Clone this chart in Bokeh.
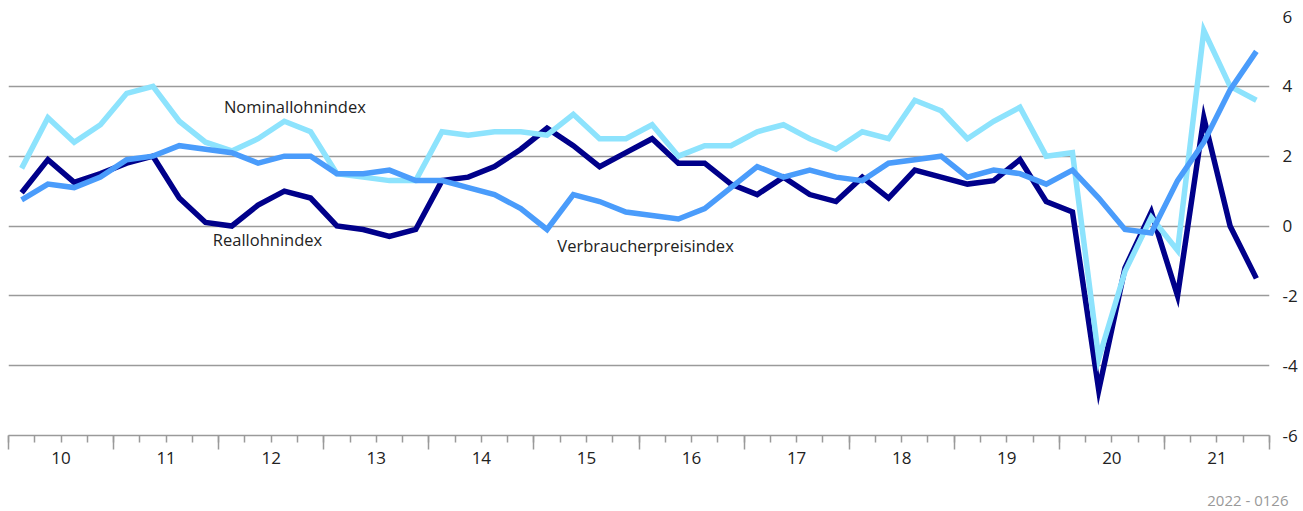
import numpy as np
from bokeh.plotting import figure
from bokeh.models import FixedTicker, LinearAxis, Label, Range1d, Title
from bokeh.embed import file_html
from bokeh.resources import INLINE

# ---- data (quarterly, 2010 Q1 .. 2021 Q4, change vs. previous year in %) ----
years = ["10", "11", "12", "13", "14", "15", "16", "17", "18", "19", "20", "21"]
nominal = [1.65, 3.1, 2.4, 2.9, 3.8, 4.0, 3.0, 2.4, 2.15, 2.5, 3.0, 2.7,
           1.5, 1.4, 1.3, 1.3, 2.7, 2.6, 2.7, 2.7, 2.6, 3.2, 2.5, 2.5,
           2.9, 2.0, 2.3, 2.3, 2.7, 2.9, 2.5, 2.2, 2.7, 2.5, 3.6, 3.3,
           2.5, 3.0, 3.4, 2.0, 2.1, -3.8, -1.3, 0.25, -0.7, 5.6, 4.0, 3.6]
real = [0.95, 1.9, 1.25, 1.5, 1.8, 2.0, 0.8, 0.1, 0.0, 0.6, 1.0, 0.8,
        0.0, -0.1, -0.3, -0.1, 1.3, 1.4, 1.7, 2.2, 2.8, 2.3, 1.7, 2.1,
        2.5, 1.8, 1.8, 1.2, 0.9, 1.4, 0.9, 0.7, 1.4, 0.8, 1.6, 1.4,
        1.2, 1.3, 1.9, 0.7, 0.4, -4.7, -1.2, 0.4, -2.0, 3.1, 0.0, -1.5]
cpi = [0.75, 1.2, 1.1, 1.4, 1.9, 2.0, 2.3, 2.2, 2.1, 1.8, 2.0, 2.0,
       1.5, 1.5, 1.6, 1.3, 1.3, 1.1, 0.9, 0.5, -0.1, 0.9, 0.7, 0.4,
       0.3, 0.2, 0.5, 1.1, 1.7, 1.4, 1.6, 1.4, 1.3, 1.8, 1.9, 2.0,
       1.4, 1.6, 1.5, 1.2, 1.6, 0.8, -0.1, -0.2, 1.3, 2.4, 3.9, 5.0]
y_ticks = [-6, -4, -2, 0, 2, 4, 6]
y_labels = ["-6", "-4", "-2", "0", "2", "4", "6"]

x = list(range(len(nominal)))
n_years = len(years)

FONT = "Open Sans"
TEXT = "#222222"
GRID = "#9a9a9a"

p = figure(width=1300, height=511, output_backend="svg", toolbar_location=None,
           x_range=Range1d(-0.5, n_years * 4 - 0.5), y_range=Range1d(-6, 6),
           x_axis_location=None, y_axis_location="right",
           min_border_left=8, min_border_top=16, min_border_right=31,
           min_border_bottom=75)
p.outline_line_color = None
p.background_fill_color = "white"
p.border_fill_color = "white"
p.xgrid.visible = False
p.ygrid.ticker = FixedTicker(ticks=y_ticks)
p.ygrid.grid_line_color = GRID
p.ygrid.grid_line_width = 1.5

ya = p.yaxis[0]
ya.ticker = FixedTicker(ticks=y_ticks)
ya.major_label_overrides = {t: l for t, l in zip(y_ticks, y_labels)}
ya.axis_line_color = None
ya.major_tick_line_color = None
ya.minor_tick_line_color = None
ya.major_tick_out = 0
ya.major_tick_in = 0
ya.major_label_standoff = 13
ya.major_label_text_font = FONT
ya.major_label_text_font_size = "17px"
ya.major_label_text_color = TEXT

# tick-mark axis (year boundaries + quarter minor ticks)
bounds = [i * 4 - 0.5 for i in range(n_years + 1)]
quarters = [i - 0.5 for i in range(n_years * 4 + 1)]
ax1 = LinearAxis(ticker=FixedTicker(ticks=bounds, minor_ticks=quarters),
                 major_label_overrides={b: "" for b in bounds})
ax1.axis_line_color = GRID
ax1.axis_line_width = 1.5
ax1.major_tick_line_color = GRID
ax1.major_tick_line_width = 1.5
ax1.minor_tick_line_color = GRID
ax1.minor_tick_line_width = 1.5
ax1.major_tick_out = 14
ax1.major_tick_in = 0
ax1.minor_tick_out = 7
ax1.minor_tick_in = 0
ax1.major_label_text_font_size = "1px"
ax1.major_label_standoff = 0
p.add_layout(ax1, "below")

# year label axis (labels centred in each year)
centers = [i * 4 + 1.5 for i in range(n_years)]
ax2 = LinearAxis(ticker=FixedTicker(ticks=centers, minor_ticks=[]),
                 major_label_overrides={c: y for c, y in zip(centers, years)})
ax2.axis_line_color = None
ax2.major_tick_line_color = None
ax2.minor_tick_line_color = None
ax2.major_tick_out = 0
ax2.major_tick_in = 0
ax2.major_label_standoff = 2
ax2.major_label_text_font = FONT
ax2.major_label_text_font_size = "17px"
ax2.major_label_text_color = TEXT
p.add_layout(ax2, "below")

# invisible spacer axis (one hidden tick, no label) to push the source note down
ax3 = LinearAxis(ticker=FixedTicker(ticks=[0], minor_ticks=[]),
                 major_label_overrides={0: ""})
ax3.axis_line_color = None
ax3.major_tick_line_color = None
ax3.minor_tick_line_color = None
ax3.major_tick_out = 20
ax3.major_tick_in = 0
ax3.minor_tick_out = 0
ax3.major_label_text_font_size = "1px"
ax3.major_label_standoff = 0
p.add_layout(ax3, "below")

p.add_layout(Title(text="2022 - 0126", align="right", offset=-19,
                   text_font=FONT, text_font_size="15px", text_font_style="normal",
                   text_color="#999999", standoff=3), "below")

LW = 5.5
p.line(x, real, line_color="#00008a", line_width=LW, line_join="miter")
p.line(x, nominal, line_color="#8de3fd", line_width=LW, line_join="miter")
p.line(x, cpi, line_color="#4a9cfb", line_width=LW, line_join="miter")

for txt, lx, ly in [("Nominallohnindex", 10.4, 3.42),
                    ("Reallohnindex", 9.36, -0.4),
                    ("Verbraucherpreisindex", 23.75, -0.57)]:
    p.add_layout(Label(x=lx, y=ly, text=txt, text_font=FONT, text_font_size="16.5px",
                       text_color=TEXT, text_align="center", text_baseline="middle"))

open("out.html", "w").write(file_html(p, INLINE))
